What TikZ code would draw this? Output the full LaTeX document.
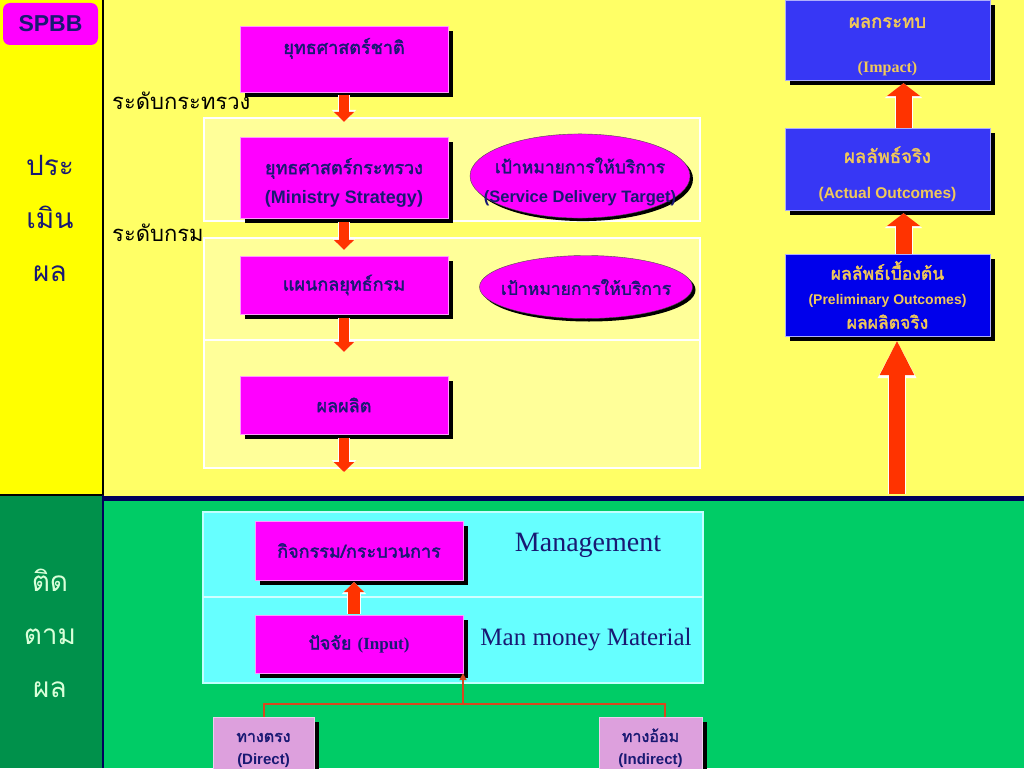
\documentclass[tikz,border=0pt]{standalone}
\usepackage{fontspec}
\setmainfont{Liberation Serif}
\newfontfamily\thai[Script=Thai]{Loma}
\newfontfamily\thaiheavy[Script=Thai, BoldFont=*, BoldFeatures={FakeBold=2}]{Loma}
\newfontfamily\arial{Liberation Sans}
\usetikzlibrary{shapes.geometric,arrows.meta,shadows}

\definecolor{sideyellow}{RGB}{255,255,0}
\definecolor{mainyellow}{RGB}{255,255,102}
\definecolor{bandyellow}{RGB}{255,255,153}
\definecolor{sidegreen}{RGB}{0,145,75}
\definecolor{maingreen}{RGB}{0,204,102}
\definecolor{cyanband}{RGB}{102,255,255}
\definecolor{boxmag}{RGB}{255,0,255}
\definecolor{navytext}{RGB}{25,25,115}
\definecolor{bluebox}{RGB}{55,55,245}
\definecolor{deepblue}{RGB}{0,0,235}
\definecolor{goldtext}{RGB}{240,200,90}
\definecolor{arrowred}{RGB}{255,51,0}
\definecolor{linkred}{RGB}{215,70,30}
\definecolor{pinkbox}{RGB}{221,160,221}
\definecolor{darkline}{RGB}{0,0,90}

\newcommand{\topgap}[1]{\rule{0pt}{#1}}

\tikzset{
  boxshadow/.style={drop shadow={shadow xshift=5pt, shadow yshift=-5pt, fill=black, opacity=1}},
  magbox/.style={rectangle, fill=boxmag, draw=white!60!boxmag, boxshadow,
    text=navytext, align=center, inner sep=0pt, minimum width=208pt,
    minimum height=58pt, font=\thaiheavy\bfseries\fontsize{18}{22}\selectfont},
  goal/.style={ellipse, fill=boxmag, draw=black!70, inner sep=0pt,
    drop shadow={shadow xshift=3pt, shadow yshift=-3pt, fill=black, opacity=1},
    text=navytext, align=center, font=\thaiheavy\bfseries\fontsize{17.5}{22}\selectfont},
  outbox/.style={rectangle, fill=bluebox, draw=white!60!bluebox, boxshadow,
    text=goldtext, align=center, inner sep=0pt, minimum width=205pt,
    minimum height=82pt, font=\thaiheavy\bfseries\fontsize{18.5}{22}\selectfont},
  srcbox/.style={rectangle, fill=pinkbox, draw=white!50!pinkbox, boxshadow,
    text=navytext, align=center, inner sep=0pt, minimum height=58pt,
    font=\thaiheavy\bfseries\fontsize{16}{23}\selectfont},
  lvl/.style={inner sep=0pt, anchor=west, font=\thai\fontsize{22}{26}\selectfont},
  sidetext/.style={inner sep=0pt, align=center, font=\thai\fontsize{28}{53}\selectfont},
  downblk/.style={arrowred, line width=10pt, -{Triangle[width=20pt,length=10pt]},
    preaction={draw=white, line width=12pt, -{Triangle[width=24pt,length=12pt]}}},
  upblk/.style={arrowred, line width=16pt, -{Triangle[width=33pt,length=13pt]},
    preaction={draw=white, line width=18pt, -{Triangle[width=37pt,length=15pt]}}},
  feed/.style={linkred, line width=2pt}
}

\begin{document}
\begin{tikzpicture}[x=1pt,y=-1pt]
\useasboundingbox (0,0) rectangle (1024,768);

% background
\fill[sideyellow] (0,0) rectangle (103,495);
\fill[sidegreen] (0,495) rectangle (103,768);
\fill[mainyellow] (103,0) rectangle (1024,496);
\fill[maingreen] (103,500) rectangle (1024,768);
\fill[darkline] (103,496) rectangle (1024,501);
\draw[black, line width=2pt] (103,0) -- (103,495) -- (0,495);
\draw[darkline, line width=2pt] (103,495) -- (103,768);

% bands
\draw[white, line width=1.5pt, fill=bandyellow] (204,118) rectangle (700,221);
\draw[white, line width=1.5pt, fill=bandyellow] (204,238) rectangle (700,468);
\draw[white, line width=1.5pt] (204,340) -- (700,340);
\draw[white!60!cyanband, line width=1.5pt, fill=cyanband] (203,512) rectangle (703,683);
\draw[white!70!cyanband, line width=1.5pt] (203,597) -- (703,597);

\node[rectangle, rounded corners=7pt, fill=boxmag, minimum width=95pt, minimum height=42pt,
  text=navytext, font=\arial\bfseries\fontsize{23}{26}\selectfont] (spbb) at (50.5,24) {SPBB};

\node[sidetext, text=navytext] (eval) at (50,218) {ประ\\เมิน\\ผล};
\node[sidetext, text=white!85!green] (track) at (50,633) {ติด\\ตาม\\ผล};

\node[lvl] (lvlmin) at (112,101) {ระดับกระทรวง};
\node[lvl] (lvldep) at (112,233) {ระดับกรม};

% strategy column
\node[magbox, minimum height=66pt, text depth=26pt] (nat) at (344,59) {ยุทธศาสตร์ชาติ};
\node[magbox, minimum height=81pt] (minis) at (344,177.5)
  {\topgap{26pt}ยุทธศาสตร์กระทรวง\\[7pt]{\arial\bfseries\fontsize{18}{20}\selectfont (Ministry Strategy)}};
\node[magbox] (plan) at (344,285) {แผนกลยุทธ์กรม};
\node[magbox] (prod) at (344,405) {ผลผลิต};
\coordinate (prodout) at (344,472);

\node[goal, minimum width=220pt, minimum height=78pt] (target) at (580,176)
  {\makebox[0pt]{\topgap{27pt}เป้าหมายการให้บริการ}\\[7pt]%
   \makebox[0pt]{\arial\bfseries\fontsize{16.5}{18}\selectfont (Service Delivery Target)}};
\node[goal, minimum width=213pt, minimum height=63pt] (target2) at (586,287)
  {\makebox[0pt]{เป้าหมายการให้บริการ}};

\draw[downblk, shorten <=3pt, shorten >=15pt] (nat) -- (minis);
\draw[downblk, shorten <=4pt, shorten >=6pt] (minis) -- (plan);
\draw[downblk, shorten <=4pt, shorten >=24pt] (plan) -- (prod);
\draw[downblk, shorten <=4pt] (prod) -- (prodout);

% outcome column
\node[outbox, minimum height=80pt] (impact) at (887.5,40)
  {\topgap{24pt}ผลกระทบ\\[23pt]{\rmfamily\bfseries\fontsize{16}{18}\selectfont (Impact)}};
\node[outbox] (actual) at (887.5,169)
  {\topgap{27pt}ผลลัพธ์จริง\\[14pt]{\arial\bfseries\fontsize{15.5}{18}\selectfont (Actual Outcomes)}};
\node[outbox, fill=deepblue, font=\thaiheavy\bfseries\fontsize{17.5}{24.5}\selectfont] (prelim) at (887.5,295)
  {ผลลัพธ์เบื้องต้น\\{\arial\bfseries\fontsize{14}{16}\selectfont (Preliminary Outcomes)}\\ผลผลิตจริง};

\draw[upblk, shorten >=3pt] ([xshift=16pt]prelim.north) -- ([xshift=16pt]actual.south);
\draw[upblk, shorten >=3pt] ([xshift=16pt]actual.north) -- ([xshift=16pt]impact.south);
\coordinate (bigfoot) at (897,494);
\draw[arrowred, line width=16pt, -{Triangle[width=32pt,length=35pt]}, shorten >=4pt,
  preaction={draw=white, line width=18pt, -{Triangle[width=36pt,length=38pt]}}]
  (bigfoot) -- (bigfoot |- prelim.south);

% monitoring part
\node[magbox, minimum height=59pt] (act) at (359,550.5) {กิจกรรม/กระบวนการ};
\node[magbox] (input) at (359,644)
  {ปัจจัย {\rmfamily\bfseries\fontsize{17}{18}\selectfont (Input)}};
\node[inner sep=0pt, text=navytext, font=\fontsize{28}{30}\selectfont] (mgmt) at (588,545) {Management};
\node[inner sep=0pt, text=navytext, font=\fontsize{25}{30}\selectfont] (res) at (586,640) {Man money Material};

\draw[arrowred, line width=12pt, -{Triangle[width=20pt,length=10pt]}, shorten <=1pt, shorten >=2pt,
  preaction={draw=white, line width=14pt, -{Triangle[width=24pt,length=12pt]}}]
  ([xshift=-5pt]input.north) -- ([xshift=-5pt]act.south);

\node[srcbox, minimum width=101pt] (direct) at (263.5,746)
  {\topgap{18pt}ทางตรง\\{\arial\bfseries\fontsize{15}{16}\selectfont (Direct)}};
\node[srcbox, minimum width=103pt] (indirect) at (650.5,746)
  {\topgap{18pt}ทางอ้อม\\{\arial\bfseries\fontsize{15}{16}\selectfont (Indirect)}};

\coordinate (hub) at (463,704);
\draw[feed] (direct.north) |- (hub);
\draw[feed] ([xshift=14pt]indirect.north) |- (hub);
\draw[feed, -{Triangle[width=7pt,length=7pt]}] (hub) -- (hub |- input.south);
\end{tikzpicture}
\end{document}
